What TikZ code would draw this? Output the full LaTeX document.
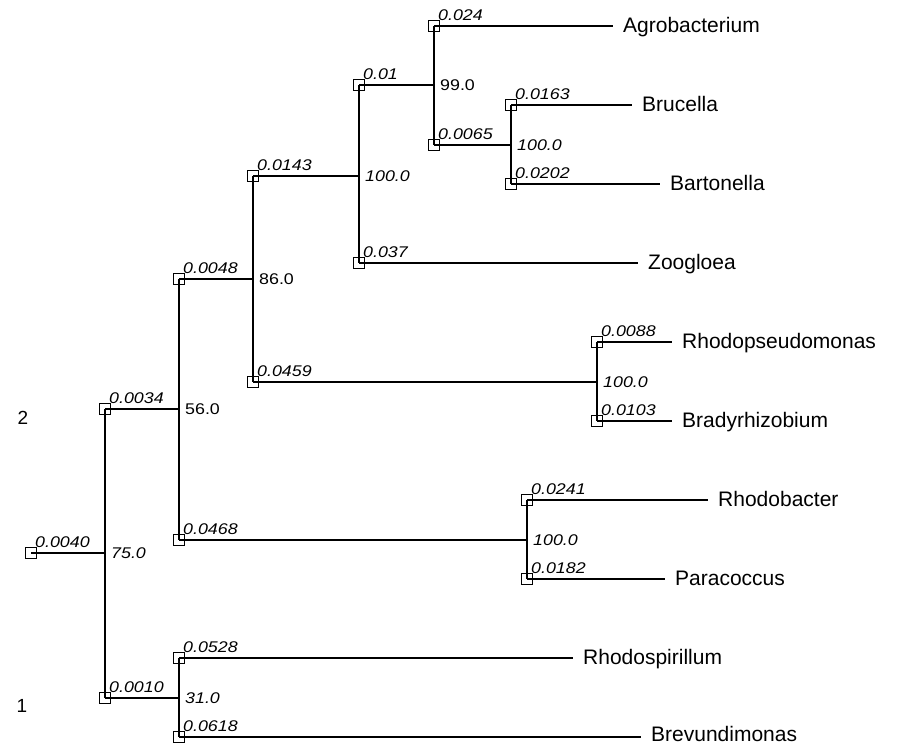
\documentclass[tikz,border=0pt]{standalone}
\usepackage{fontspec}
\setmainfont{Liberation Sans}
\newfontfamily\numfont[FakeStretch=1.15]{Liberation Sans}

\tikzset{
  joint/.style={draw, line width=1.4pt, minimum size=10.5pt, inner sep=0pt},
  blen/.style={font=\numfont\fontsize{15.5}{16}\selectfont\itshape, inner sep=0pt, anchor=base west},
  boot/.style={font=\numfont\fontsize{15.5}{16}\selectfont\itshape, inner sep=0pt, anchor=west, xshift=6pt},
  bootup/.style={boot, font=\numfont\fontsize{15.5}{16}\selectfont},
  taxon/.style={font=\fontsize{21}{24}\selectfont, anchor=west, inner xsep=10pt, inner ysep=0pt, text height=15pt, text depth=0pt, yshift=1pt},
  branch/.style={line width=1.5pt},
}

% square joint with its branch length above it
\newcommand{\jointnode}[4]{%
  \node[joint] (#1) at (#2,#3) {};
  \node[blen] (#1-len) at ([xshift=4pt,yshift=6pt]#1.center) {#4};
}

\begin{document}
\begin{tikzpicture}[x=1pt,y=-1pt]
\useasboundingbox (0,0) rectangle (897,744);
% Joints
\jointnode{root}{31}{553}{0.0040}
\jointnode{n1}{105}{409}{0.0034}
\jointnode{n2}{105}{698}{0.0010}
\jointnode{n3}{179}{279}{0.0048}
\jointnode{n4}{179}{540}{0.0468}
\jointnode{n5}{179}{658}{0.0528}
\jointnode{n6}{179}{737}{0.0618}
\jointnode{n7}{253}{176}{0.0143}
\jointnode{n8}{253}{382}{0.0459}
\jointnode{n9}{359}{85}{0.01}
\jointnode{n10}{359}{263}{0.037}
\jointnode{n11}{434}{26}{0.024}
\jointnode{n12}{434}{145}{0.0065}
\jointnode{n13}{511}{105}{0.0163}
\jointnode{n14}{511}{184}{0.0202}
\jointnode{n15}{597}{342}{0.0088}
\jointnode{n16}{597}{421}{0.0103}
\jointnode{n17}{527}{500}{0.0241}
\jointnode{n18}{527}{579}{0.0182}
% Taxa
\node[taxon] (agro) at (613,26) {Agrobacterium};
\node[taxon] (bruc) at (632,105) {Brucella};
\node[taxon] (bart) at (660,184) {Bartonella};
\node[taxon] (zoog) at (638,263) {Zoogloea};
\node[taxon] (rpseu) at (672,342) {Rhodopseudomonas};
\node[taxon] (brady) at (672,421) {Bradyrhizobium};
\node[taxon] (rbact) at (708,500) {Rhodobacter};
\node[taxon] (para) at (665,579) {Paracoccus};
\node[taxon] (rspir) at (573,658) {Rhodospirillum};
\node[taxon, yshift=2pt] (brev) at (641,737) {Brevundimonas};
% Group marks
\node[font=\fontsize{19}{20}\selectfont] (grp2) at (23,418) {2};
\node[font=\fontsize{19}{20}\selectfont] (grp1) at (22,706) {1};
% Bootstrap values
\node[boot] (root-boot) at (n1.center |- root.center) {75.0};
\node[bootup] (n1-boot) at (n3.center |- n1.center) {56.0};
\node[boot] (n2-boot) at (n5.center |- n2.center) {31.0};
\node[bootup] (n3-boot) at (n7.center |- n3.center) {86.0};
\node[boot] (n7-boot) at (n9.center |- n7.center) {100.0};
\node[bootup] (n9-boot) at (n11.center |- n9.center) {99.0};
\node[boot] (n12-boot) at (n13.center |- n12.center) {100.0};
\node[boot] (n8-boot) at (n15.center |- n8.center) {100.0};
\node[boot] (n4-boot) at (n17.center |- n4.center) {100.0};
% Internal branches
\draw[branch] (root.center) -- (n1.center |- root.center);
\draw[branch] (n1.center) -- (n2.center);
\draw[branch] (n1.center) -- (n3.center |- n1.center);
\draw[branch] (n3.center) -- (n4.center);
\draw[branch] (n2.center) -- (n5.center |- n2.center);
\draw[branch] (n5.center) -- (n6.center);
\draw[branch] (n3.center) -- (n7.center |- n3.center);
\draw[branch] (n7.center) -- (n8.center);
\draw[branch] (n7.center) -- (n9.center |- n7.center);
\draw[branch] (n9.center) -- (n10.center);
\draw[branch] (n9.center) -- (n11.center |- n9.center);
\draw[branch] (n11.center) -- (n12.center);
\draw[branch] (n12.center) -- (n13.center |- n12.center);
\draw[branch] (n13.center) -- (n14.center);
\draw[branch] (n8.center) -- (n15.center |- n8.center);
\draw[branch] (n15.center) -- (n16.center);
\draw[branch] (n4.center) -- (n17.center |- n4.center);
\draw[branch] (n17.center) -- (n18.center);
% Terminal branches
\draw[branch] (n11.center) -- (agro.west |- n11.center);
\draw[branch] (n13.center) -- (bruc.west |- n13.center);
\draw[branch] (n14.center) -- (bart.west |- n14.center);
\draw[branch] (n10.center) -- (zoog.west |- n10.center);
\draw[branch] (n15.center) -- (rpseu.west |- n15.center);
\draw[branch] (n16.center) -- (brady.west |- n16.center);
\draw[branch] (n17.center) -- (rbact.west |- n17.center);
\draw[branch] (n18.center) -- (para.west |- n18.center);
\draw[branch] (n5.center) -- (rspir.west |- n5.center);
\draw[branch] (n6.center) -- (brev.west |- n6.center);
\end{tikzpicture}
\end{document}
